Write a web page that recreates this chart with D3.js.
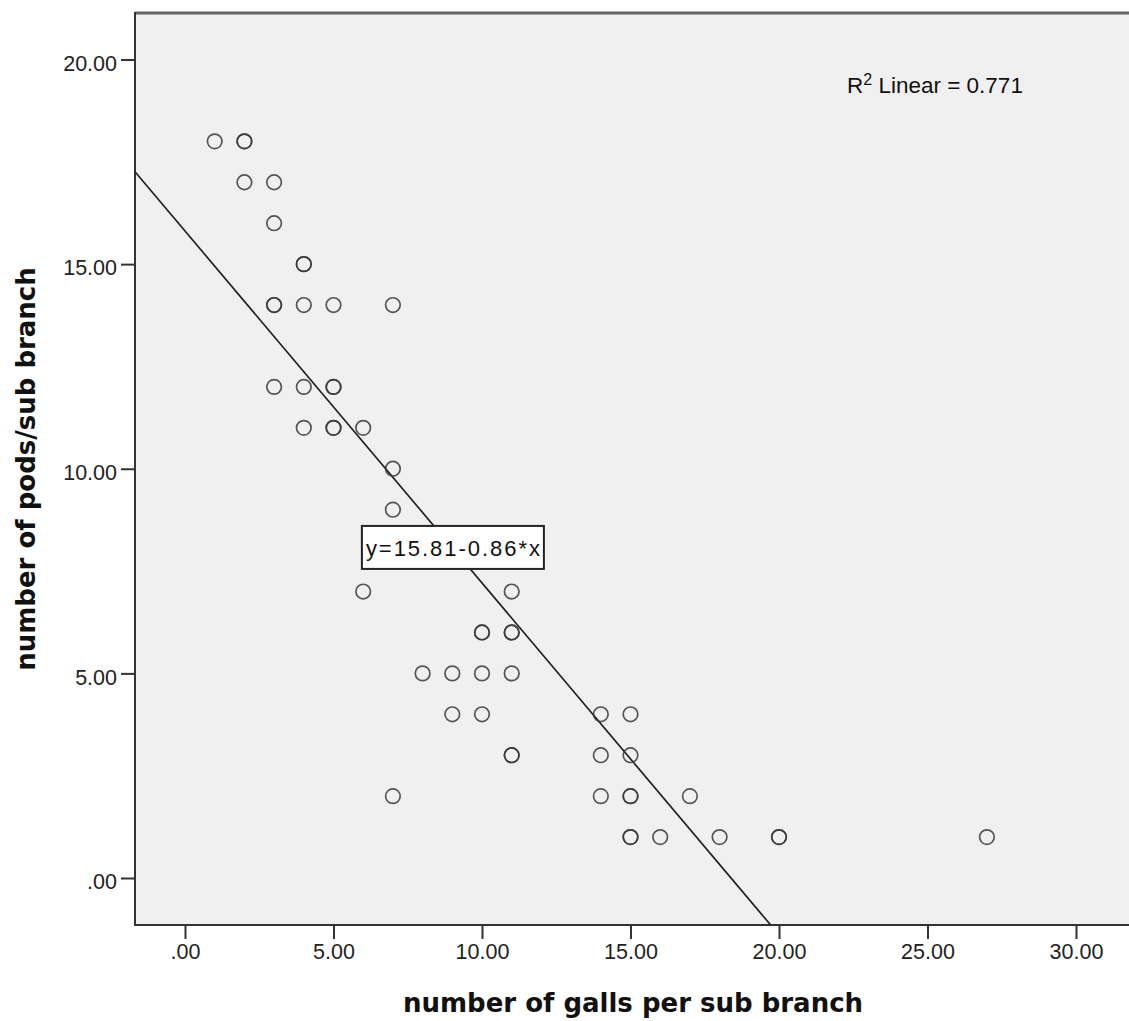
<!DOCTYPE html>
<html>
<head>
<meta charset="utf-8">
<script src="https://cdn.jsdelivr.net/npm/d3@7"></script>
<style>
  body { margin: 0; background: #fff; }
  svg { display: block; }
</style>
</head>
<body>
<script>
const width = 1129;
const height = 1021;

// observed points (duplicates listed twice - they show darker in the original)
const galls = [1, 2, 2, 2, 3, 3, 4, 4, 3, 3, 4, 5, 7, 3, 4, 5, 5, 4, 5, 5, 6, 7, 7, 6, 11,
  10, 10, 11, 11, 8, 9, 10, 11, 9, 10, 14, 15, 11, 11, 14, 15, 7, 14, 15, 15, 17,
  15, 15, 16, 18, 20, 20, 27];
const pods = [18, 18, 18, 17, 17, 16, 15, 15, 14, 14, 14, 14, 14, 12, 12, 12, 12, 11, 11, 11, 11, 10, 9, 7, 7,
  6, 6, 6, 6, 5, 5, 5, 5, 4, 4, 4, 4, 3, 3, 3, 3, 2, 2, 2, 2, 2,
  1, 1, 1, 1, 1, 1, 1];

const xTicks = [0, 5, 10, 15, 20, 25, 30];
const yTicks = [0, 5, 10, 15, 20];

const intercept = 15.81;
const slope = -0.86;
const rSquared = 0.771;

const plot = { left: 135, top: 13, right: 1140, bottom: 925 };

const svg = d3.select("body")
  .append("svg")
  .attr("width", width)
  .attr("height", height);

const xScale = d3.scaleLinear()
  .domain([0, 30])
  .range([185, 1076]);

const yScale = d3.scaleLinear()
  .domain([0, 20])
  .range([878, 59.5]);

const fmt = v => v === 0 ? ".00" : d3.format(".2f")(v);

// plot background
svg.append("rect")
  .attr("x", plot.left)
  .attr("y", plot.top)
  .attr("width", plot.right - plot.left)
  .attr("height", plot.bottom - plot.top)
  .attr("fill", "#f0f0f0");

svg.append("clipPath")
  .attr("id", "clip")
  .append("rect")
  .attr("x", plot.left)
  .attr("y", plot.top)
  .attr("width", plot.right - plot.left)
  .attr("height", plot.bottom - plot.top);

// axes
const xAxis = svg.append("g")
  .attr("transform", `translate(0,${plot.bottom})`)
  .call(d3.axisBottom(xScale).tickValues(xTicks).tickFormat(fmt).tickSize(14).tickSizeOuter(0));

const yAxis = svg.append("g")
  .attr("transform", `translate(${plot.left},0)`)
  .call(d3.axisLeft(yScale).tickValues(yTicks).tickFormat(fmt).tickSize(14).tickSizeOuter(0));

[xAxis, yAxis].forEach(a => {
  a.select(".domain").remove();
  a.selectAll(".tick line").attr("stroke", "#333").attr("stroke-width", 2);
  a.selectAll(".tick text")
    .attr("fill", "#222")
    .attr("font-family", "'Liberation Sans', Arial, sans-serif")
    .attr("font-size", 21.5);
});
xAxis.selectAll(".tick text").attr("y", 19).attr("dy", "0.71em");
yAxis.selectAll(".tick text").attr("x", -18).attr("dy", "0.5em");

// frame
svg.append("line")
  .attr("x1", plot.left).attr("x2", plot.right)
  .attr("y1", plot.top).attr("y2", plot.top)
  .attr("stroke", "#666").attr("stroke-width", 3);
svg.append("line")
  .attr("x1", plot.left).attr("x2", plot.right)
  .attr("y1", plot.bottom).attr("y2", plot.bottom)
  .attr("stroke", "#333").attr("stroke-width", 2);
svg.append("line")
  .attr("x1", plot.left).attr("x2", plot.left)
  .attr("y1", plot.top - 1).attr("y2", plot.bottom + 1)
  .attr("stroke", "#333").attr("stroke-width", 2);

// fit line
const fitX = [-2, 22];
svg.append("path")
  .datum(fitX)
  .attr("clip-path", "url(#clip)")
  .attr("fill", "none")
  .attr("stroke", "#222")
  .attr("stroke-width", 1.7)
  .attr("d", d3.line()
    .x(d => xScale(d))
    .y(d => yScale(intercept + slope * d)));

// points
svg.append("g")
  .selectAll("circle")
  .data(galls)
  .enter()
  .append("circle")
  .attr("cx", d => xScale(d))
  .attr("cy", (d, i) => yScale(pods[i]))
  .attr("r", 7.3)
  .attr("fill", "none")
  .attr("stroke", "#3a3a3a")
  .attr("stroke-opacity", 0.85)
  .attr("stroke-width", 1.7);

// equation label
const eqX = 9.02, eqY = 8.09;
const eqG = svg.append("g")
  .attr("transform", `translate(${xScale(eqX)},${yScale(eqY)})`);
eqG.append("rect")
  .attr("x", -91).attr("y", -21)
  .attr("width", 182).attr("height", 43)
  .attr("fill", "#fff")
  .attr("stroke", "#222")
  .attr("stroke-width", 2);
eqG.append("text")
  .attr("text-anchor", "middle")
  .attr("y", 9)
  .attr("font-family", "'Liberation Sans', Arial, sans-serif")
  .attr("font-size", 22)
  .attr("fill", "#111")
  .attr("textLength", 174)
  .attr("lengthAdjust", "spacing")
  .text(`y=${intercept}-${Math.abs(slope)}*x`);

// R squared
const r2 = svg.append("text")
  .attr("x", 847)
  .attr("y", 93)
  .attr("font-family", "'Liberation Sans', Arial, sans-serif")
  .attr("font-size", 22.5)
  .attr("fill", "#111");
r2.append("tspan").text("R");
r2.append("tspan").attr("font-size", 16).attr("dy", -8).text("2");
r2.append("tspan").attr("dy", 8).text(` Linear = ${rSquared}`);

// axis titles
svg.append("text")
  .attr("x", 633)
  .attr("y", 1012)
  .attr("text-anchor", "middle")
  .attr("font-family", "'DejaVu Sans', Verdana, sans-serif")
  .attr("font-weight", "bold")
  .attr("font-size", 26)
  .attr("fill", "#111")
  .text("number of galls per sub branch");

svg.append("text")
  .attr("transform", "translate(35,469) rotate(-90)")
  .attr("text-anchor", "middle")
  .attr("font-family", "'DejaVu Sans', Verdana, sans-serif")
  .attr("font-weight", "bold")
  .attr("font-size", 26)
  .attr("fill", "#111")
  .text("number of pods/sub branch");
</script>
</body>
</html>
